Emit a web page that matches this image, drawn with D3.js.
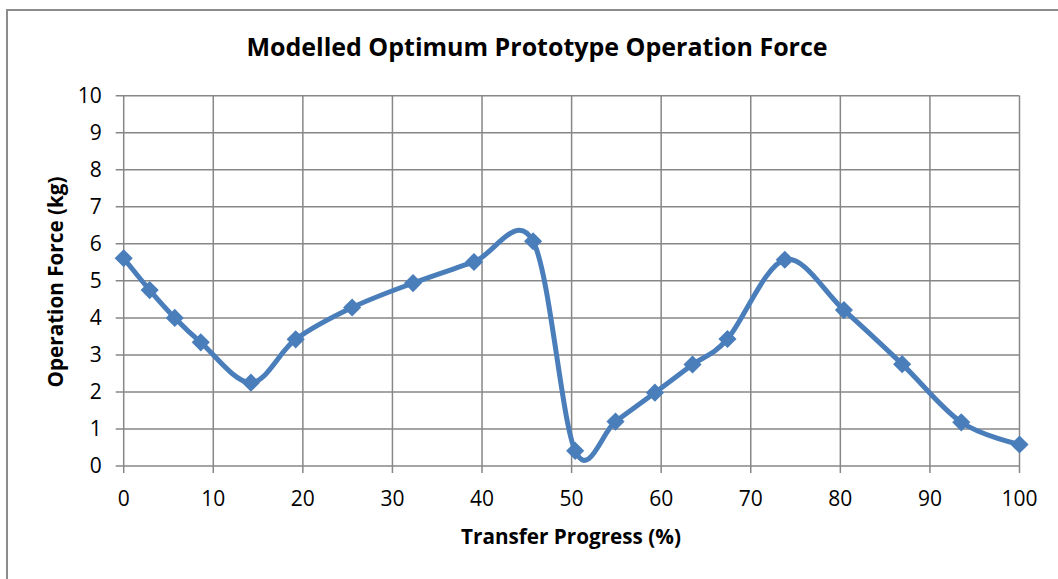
<!DOCTYPE html>
<html>
<head>
<meta charset="utf-8">
<script src="https://cdn.jsdelivr.net/npm/d3@7"></script>
<style>
  html, body { margin: 0; padding: 0; background: #fff; }
  svg { display: block; font-family: "Open Sans", Lato, sans-serif; }
</style>
</head>
<body>
<svg width="1058" height="579"></svg>
<script>
// data
var progress = [0, 2.9, 5.7, 8.6, 14.2, 19.2, 25.5, 32.3, 39.1, 45.7, 50.4, 54.9, 59.3, 63.5, 67.4, 73.8, 80.4, 86.9, 93.5, 100];
var force = [5.61, 4.75, 4.0, 3.34, 2.25, 3.42, 4.28, 4.94, 5.51, 6.07, 0.41, 1.2, 1.98, 2.74, 3.43, 5.57, 4.21, 2.75, 1.18, 0.58];
var xTicks = [0, 10, 20, 30, 40, 50, 60, 70, 80, 90, 100];
var yTicks = [0, 1, 2, 3, 4, 5, 6, 7, 8, 9, 10];

var title = "Modelled Optimum Prototype Operation Force",
    xTitle = "Transfer Progress (%)",
    yTitle = "Operation Force (kg)";

var svg = d3.select("svg");
var width = +svg.attr("width"),
    height = +svg.attr("height");

var gridColor = "#878787",
    lineColor = "#4a7ebb";

// outer chart border (runs off the right/bottom of the picture)
svg.append("rect")
    .attr("x", 7).attr("y", 10)
    .attr("width", 1100).attr("height", 600)
    .attr("fill", "none")
    .attr("stroke", "#8c8c8c")
    .attr("stroke-width", 2);

var x = d3.scaleLinear().domain([0, 100]).range([123.7, 1019.5]);
var y = d3.scaleLinear().domain([0, 10]).range([466, 95.7]);

// grid
svg.append("g")
    .selectAll("line.h")
    .data(yTicks)
    .enter().append("line")
    .attr("x1", x(0) - 8).attr("x2", x(100))
    .attr("y1", function(d) { return y(d); })
    .attr("y2", function(d) { return y(d); })
    .attr("stroke", gridColor).attr("stroke-width", 1.5);

svg.append("g")
    .selectAll("line.v")
    .data(xTicks)
    .enter().append("line")
    .attr("x1", function(d) { return x(d); })
    .attr("x2", function(d) { return x(d); })
    .attr("y1", y(10)).attr("y2", y(0) + 7)
    .attr("stroke", gridColor).attr("stroke-width", 1.5);

// tick labels
svg.append("g")
    .selectAll("text")
    .data(yTicks)
    .enter().append("text")
    .attr("x", x(0) - 22)
    .attr("y", function(d) { return y(d); })
    .attr("dy", "0.35em")
    .attr("text-anchor", "end")
    .attr("font-size", 21)
    .attr("fill", "#000")
    .text(function(d) { return d; });

svg.append("g")
    .selectAll("text")
    .data(xTicks)
    .enter().append("text")
    .attr("x", function(d) { return x(d); })
    .attr("y", 499)
    .attr("dy", "0.35em")
    .attr("text-anchor", "middle")
    .attr("font-size", 21)
    .attr("fill", "#000")
    .text(function(d) { return d; });

// titles
svg.append("text")
    .attr("x", 537).attr("y", 47)
    .attr("dy", "0.35em")
    .attr("text-anchor", "middle")
    .attr("font-size", 25)
    .attr("font-weight", "bold")
    .text(title);

svg.append("text")
    .attr("x", 571).attr("y", 537)
    .attr("dy", "0.35em")
    .attr("text-anchor", "middle")
    .attr("font-size", 20.7)
    .attr("font-weight", "bold")
    .text(xTitle);

svg.append("text")
    .attr("transform", "translate(56,282) rotate(-90)")
    .attr("dy", "0.35em")
    .attr("text-anchor", "middle")
    .attr("font-size", 20.7)
    .attr("font-weight", "bold")
    .text(yTitle);

// smoothed series line
var pts = progress.map(function(p, i) { return [p, force[i]]; });

var line = d3.line()
    .x(function(d) { return x(d[0]); })
    .y(function(d) { return y(d[1]); })
    .curve(d3.curveCardinal.tension(0));

svg.append("path")
    .datum(pts)
    .attr("d", line)
    .attr("fill", "none")
    .attr("stroke", lineColor)
    .attr("stroke-width", 5)
    .attr("stroke-linejoin", "round");

// diamond markers
var diamond = d3.symbol().type(d3.symbolDiamond2).size(210);

svg.append("g")
    .selectAll("path")
    .data(pts)
    .enter().append("path")
    .attr("transform", function(d) { return "translate(" + x(d[0]) + "," + y(d[1]) + ")"; })
    .attr("d", diamond)
    .attr("fill", lineColor);
</script>
</body>
</html>
